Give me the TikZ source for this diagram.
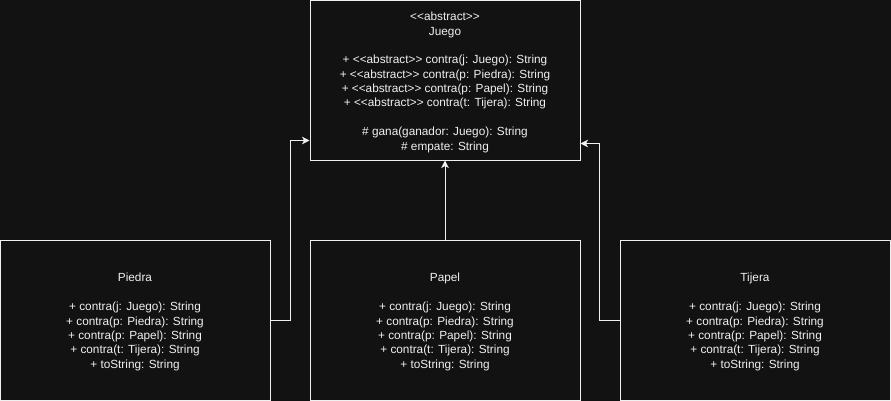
\documentclass[tikz,border=0pt]{standalone}
\usepackage{fontspec}
\setmainfont{Liberation Sans}[Ligatures=TeXOff]
\usetikzlibrary{arrows.meta}
\definecolor{bgc}{HTML}{121212}
\definecolor{fgc}{HTML}{F0F0F0}
\tikzset{
  umlbox/.style={draw=fgc, line width=1pt, fill=bgc, inner sep=0pt, minimum width=270pt},
  umltext/.style={text=fgc, align=center, font=\fontsize{11.8}{14.37}\selectfont, inner sep=0pt},
  conn/.style={draw=fgc, line width=1pt, -{Stealth[length=7.5pt,width=7.5pt,inset=2pt]}}
}
\begin{document}
\begin{tikzpicture}[x=1pt,y=-1pt]
\useasboundingbox (0,0) rectangle (891,401);
\fill[bgc] (0,0) rectangle (891,401);
\clip (0,0) rectangle (891,401);
\node[umlbox, minimum height=159pt] (juego) at (445,80.5) {};
\node[umlbox, minimum height=160pt] (piedra) at (135,320) {};
\node[umlbox, minimum height=160pt] (papel) at (445,320) {};
\node[umlbox, minimum height=160pt] (tijera) at (755,320) {};
\node[umltext] (juegotxt) at ([yshift=-1.8pt]juego.center)
  {<<abstract>>\\Juego\\[14.37pt]
   + <<abstract>> contra(j: Juego): String\\
   + <<abstract>> contra(p: Piedra): String\\
   + <<abstract>> contra(p: Papel): String\\
   + <<abstract>> contra(t: Tijera): String\\[14.37pt]
   \# gana(ganador: Juego): String\\
   \# empate: String};
\node[umltext] (piedratxt) at ([yshift=-2pt]piedra.center)
  {Piedra\\[14.37pt]
   + contra(j: Juego): String\\
   + contra(p: Piedra): String\\
   + contra(p: Papel): String\\
   + contra(t: Tijera): String\\
   + toString: String};
\node[umltext] (papeltxt) at ([yshift=-2pt]papel.center)
  {Papel\\[14.37pt]
   + contra(j: Juego): String\\
   + contra(p: Piedra): String\\
   + contra(p: Papel): String\\
   + contra(t: Tijera): String\\
   + toString: String};
\node[umltext] (tijeratxt) at ([yshift=-2pt]tijera.center)
  {Tijera\\[14.37pt]
   + contra(j: Juego): String\\
   + contra(p: Piedra): String\\
   + contra(p: Papel): String\\
   + contra(t: Tijera): String\\
   + toString: String};
\draw[conn] (piedra.east) -- ++(20,0) |- ([yshift=20pt]juego.south west);
\draw[conn] (papel.north) -- (juego.south);
\draw[conn] (tijera.west) -- ++(-20,0) |- ([yshift=17pt]juego.south east);
\end{tikzpicture}
\end{document}
